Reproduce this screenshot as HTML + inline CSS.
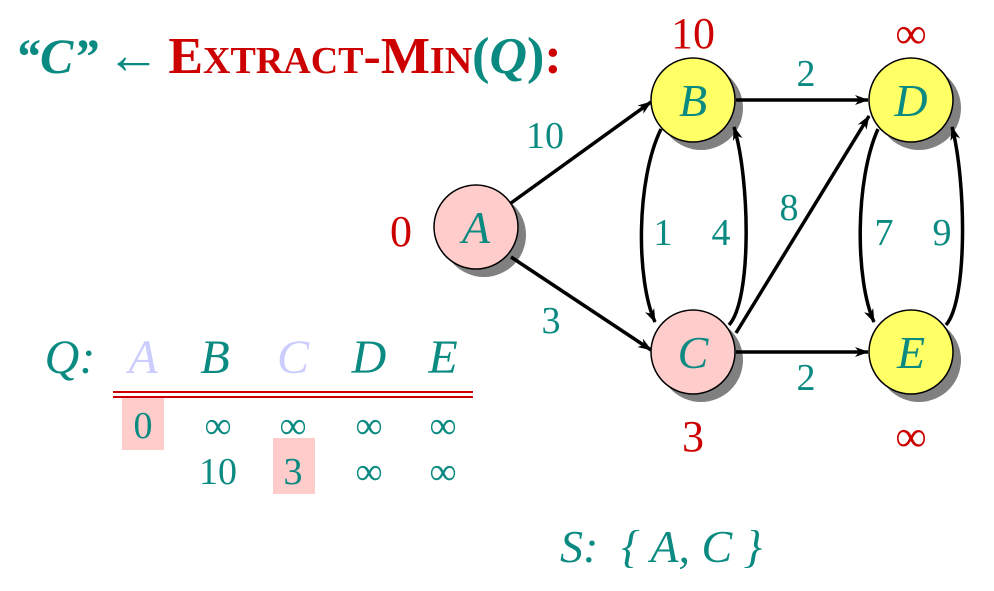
<!DOCTYPE html>
<html><head><meta charset="utf-8"><style>
html,body{margin:0;padding:0;background:#fff;}
svg{display:block;}
.t{fill:#0a8a80;font-family:"Liberation Serif",serif;}
.r{fill:#cc0000;font-family:"Liberation Serif",serif;}
.i{font-style:italic;}
</style></head><body>
<svg width="994" height="591" viewBox="0 0 994 591" xmlns="http://www.w3.org/2000/svg">
<defs>
<marker id="ah" markerWidth="14" markerHeight="10" refX="13" refY="5" orient="auto" markerUnits="userSpaceOnUse"><path d="M0,0 L14,5 L0,10 L4,5 z" fill="#000"/></marker>
</defs>
<!-- title -->
<text y="73" font-weight="bold"><tspan x="15" class="t i" font-size="50">“C”</tspan><tspan class="t" font-size="54" font-weight="normal" dx="8">←</tspan><tspan class="r" font-size="52" dx="8">E</tspan><tspan class="r" font-size="38">XTRACT</tspan><tspan class="r" font-size="52">-M</tspan><tspan class="r" font-size="38">IN</tspan><tspan class="t" font-size="52">(</tspan><tspan class="t i" font-size="52">Q</tspan><tspan class="t" font-size="52">)</tspan><tspan class="r" font-size="52">:</tspan></text>

<!-- shadows -->
<g fill="#808080">
<circle cx="484" cy="235" r="42"/><circle cx="701" cy="108" r="42"/><circle cx="919" cy="108" r="42"/><circle cx="701" cy="360" r="42"/><circle cx="919" cy="360" r="42"/>
</g>
<!-- edges -->
<g stroke="#000" stroke-width="3.5" fill="none" marker-end="url(#ah)">
<line x1="511" y1="203" x2="651" y2="102"/>
<line x1="511" y1="257" x2="651" y2="350"/>
<line x1="736" y1="100" x2="868" y2="100"/>
<line x1="736" y1="352" x2="868" y2="352"/>
<line x1="736" y1="333" x2="869" y2="116"/>
<path d="M661,129 C636,180 636,280 655,322"/>
<path d="M729,325 C752,300 750,180 734,127"/>
<path d="M878,129 C855,180 855,280 874,322"/>
<path d="M946,325 C968,300 966,180 952,127"/>
</g>
<!-- nodes -->
<g stroke="#000" stroke-width="1.5">
<circle cx="476" cy="227" r="42" fill="#ffcccc"/>
<circle cx="693" cy="100" r="42" fill="#ffff66"/>
<circle cx="911" cy="100" r="42" fill="#ffff66"/>
<circle cx="693" cy="352" r="42" fill="#ffcccc"/>
<circle cx="911" cy="352" r="42" fill="#ffff66"/>
</g>
<g class="t i" font-size="46" text-anchor="middle">
<text x="476" y="243">A</text><text x="693" y="116">B</text><text x="911" y="116">D</text><text x="693" y="368">C</text><text x="911" y="368">E</text>
</g>
<!-- edge labels -->
<g class="t" font-size="38" text-anchor="middle">
<text x="545" y="148">10</text><text x="551" y="333">3</text>
<text x="806" y="86">2</text><text x="806" y="390">2</text>
<text x="789" y="220">8</text>
<text x="663" y="245">1</text><text x="721" y="245">4</text>
<text x="884" y="245">7</text><text x="942" y="245">9</text>
</g>
<!-- distances -->
<g class="r" font-size="44" text-anchor="middle">
<text x="401" y="246">0</text><text x="693" y="48">10</text><text x="911" y="48">∞</text>
<text x="693" y="451">3</text><text x="911" y="451">∞</text>
</g>
<!-- table -->
<rect x="122" y="396" width="42" height="54" fill="#ffcccc"/>
<rect x="273" y="438" width="42" height="56" fill="#ffcccc"/>
<line x1="113" y1="392" x2="473" y2="392" stroke="#cc0000" stroke-width="2"/>
<line x1="113" y1="397" x2="473" y2="397" stroke="#cc0000" stroke-width="2"/>
<g font-size="48" text-anchor="middle">
<text x="70" y="373" class="t i">Q:</text>
<text x="143" y="373" class="i" fill="#ccccff" font-family="Liberation Serif,serif">A</text>
<text x="215" y="373" class="t i">B</text>
<text x="293" y="373" class="i" fill="#ccccff" font-family="Liberation Serif,serif">C</text>
<text x="369" y="373" class="t i">D</text>
<text x="443" y="373" class="t i">E</text>
</g>
<g class="t" font-size="38" text-anchor="middle">
<text x="143" y="438">0</text><text x="218" y="438">∞</text><text x="293" y="438">∞</text><text x="369" y="438">∞</text><text x="443" y="438">∞</text>
<text x="218" y="484">10</text><text x="293" y="484">3</text><text x="369" y="484">∞</text><text x="443" y="484">∞</text>
</g>
<text x="560" y="562" class="t i" font-size="46" xml:space="preserve">S:  { A, C }</text>
</svg>
</body></html>
